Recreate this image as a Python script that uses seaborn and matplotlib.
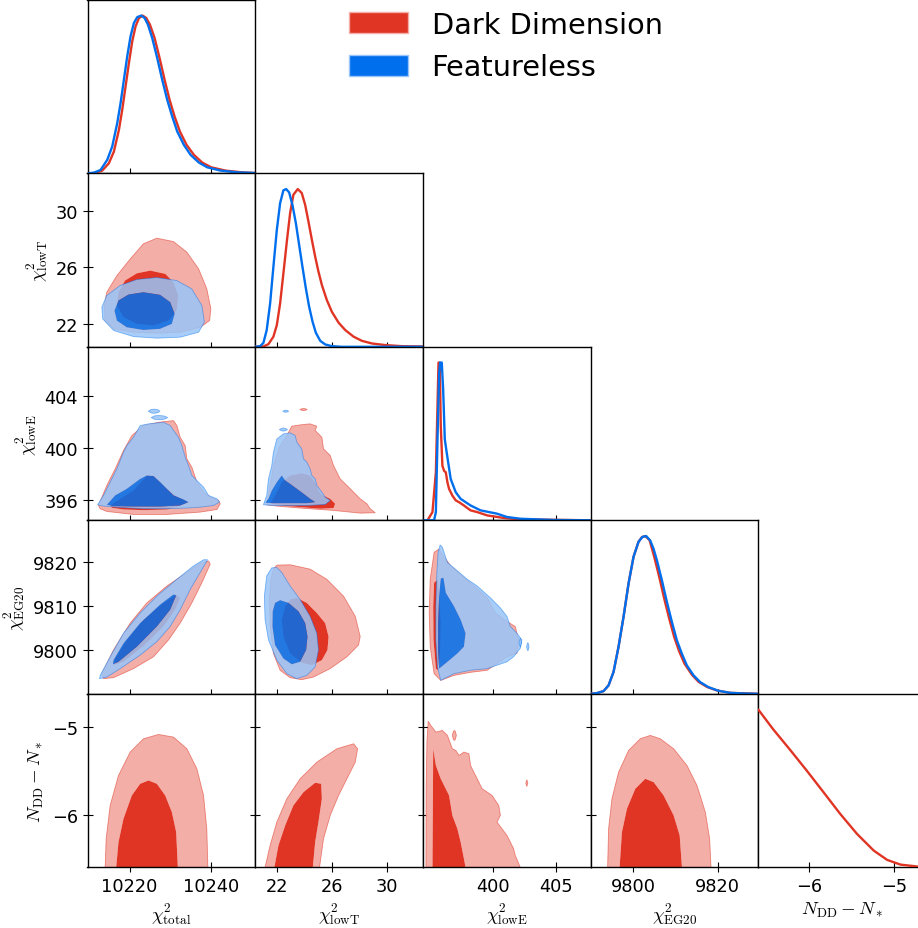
import numpy as np
import matplotlib
matplotlib.use('Agg')
import matplotlib.pyplot as plt
import matplotlib.colors as mcolors
from matplotlib.path import Path
from matplotlib.patches import PathPatch, Patch
import seaborn as sns

# ---------------- parameters / axes ----------------
param_labels = [r'$\chi^2_{\rm total}$', r'$\chi^2_{\rm lowT}$', r'$\chi^2_{\rm lowE}$',
                r'$\chi^2_{\rm EG20}$', r'$N_{\rm DD}-N_*$']
param_lims = [(10209.67, 10250.9), (20.38, 32.63), (394.42, 407.75), (9790.0, 9829.6), (-6.6, -4.62)]
xticks_list = [[10220, 10240], [22, 26, 30], [400, 405], [9800, 9820], [-6, -5]]
yticks_list = [[10220, 10240], [22, 26, 30], [396, 400, 404], [9800, 9810, 9820], [-6, -5]]
series_names = ['Dark Dimension', 'Featureless']

# ---------------- 1D marginals ----------------
tot_x_dd = [10209.7, 10211.65, 10213.29, 10214.93, 10216.16, 10217.39, 10218.21, 10219.03, 10219.85, 10220.67,
            10221.49, 10222.3, 10223.21, 10224.11, 10225.01, 10226.16, 10227.39, 10228.62, 10229.85, 10231.08,
            10232.39, 10234.03, 10235.83, 10237.88, 10240.09, 10243.62, 10247.72, 10250.9]
tot_p_dd = [0.0, 0.002, 0.017, 0.064, 0.138, 0.275, 0.403, 0.551, 0.699, 0.837,
            0.932, 0.983, 1.0, 0.985, 0.943, 0.858, 0.731, 0.593, 0.466, 0.36,
            0.265, 0.18, 0.117, 0.068, 0.038, 0.017, 0.006, 0.002]
tot_x_fl = [10209.7, 10211.24, 10212.88, 10214.52, 10215.75, 10216.98, 10217.8, 10218.62, 10219.44, 10220.26,
            10221.08, 10221.9, 10222.88, 10223.7, 10224.52, 10225.58, 10226.81, 10228.04, 10229.27, 10230.5,
            10231.73, 10233.37, 10235.01, 10237.06, 10239.11, 10242.39, 10246.49, 10250.9]
tot_p_fl = [0.0, 0.004, 0.021, 0.085, 0.17, 0.318, 0.445, 0.593, 0.742, 0.869,
            0.953, 0.99, 1.0, 0.985, 0.943, 0.858, 0.731, 0.593, 0.466, 0.36,
            0.265, 0.18, 0.117, 0.068, 0.038, 0.017, 0.006, 0.002]

lowT_x_dd = [20.37, 20.98, 21.35, 21.71, 21.96, 22.2, 22.44, 22.69, 22.93, 23.17, 23.49, 23.78, 24.03, 24.27,
             24.52, 24.76, 25.0, 25.25, 25.61, 25.98, 26.47, 26.96, 27.57, 28.17, 28.91, 29.88, 31.1, 32.66]
lowT_p_dd = [0.0, 0.002, 0.017, 0.064, 0.138, 0.275, 0.466, 0.667, 0.847, 0.964, 1.0, 0.975, 0.9, 0.794,
             0.678, 0.572, 0.477, 0.392, 0.297, 0.222, 0.153, 0.106, 0.064, 0.038, 0.021, 0.011, 0.004, 0.002]
lowT_x_fl = [20.37, 20.74, 20.98, 21.22, 21.47, 21.71, 21.96, 22.2, 22.44, 22.64, 22.86, 23.1, 23.35, 23.59,
             23.83, 24.08, 24.32, 24.57, 24.81, 25.13, 25.49, 25.98, 26.71, 32.66]
lowT_p_fl = [0.0, 0.004, 0.025, 0.106, 0.275, 0.508, 0.742, 0.911, 0.992, 1.0, 0.979, 0.9, 0.784, 0.646,
             0.508, 0.371, 0.254, 0.159, 0.089, 0.038, 0.015, 0.004, 0.0, 0.0]

lowE_x_dd = [394.42, 394.79, 395.18, 395.45, 395.58, 395.66, 395.76, 395.84, 395.97, 396.1, 396.24, 396.37,
             396.5, 396.76, 397.03, 397.29, 397.68, 398.21, 398.74, 399.53, 400.84, 402.16, 407.74]
lowE_p_dd = [0, 0, 0.052, 0.304, 0.723, 1.0, 1.0, 0.6, 0.346, 0.314, 0.304, 0.241,
             0.199, 0.157, 0.126, 0.115, 0.094, 0.063, 0.052, 0.031, 0.015, 0.006, 0]
lowE_x_fl = [394.42, 395.31, 395.45, 395.58, 395.71, 395.79, 395.92, 396.03, 396.16, 396.31, 396.63, 397.03,
             397.42, 398.21, 399.0, 400.31, 401.1, 402.16, 404.79, 407.74]
lowE_p_fl = [0, 0, 0.052, 0.514, 0.933, 1.0, 1.0, 0.828, 0.514, 0.43, 0.262, 0.178,
             0.136, 0.094, 0.063, 0.042, 0.021, 0.01, 0.002, 0]

eg_x_dd = [9790.0, 9791.47, 9793.05, 9794.23, 9795.41, 9796.59, 9797.77, 9798.96, 9800.14, 9801.32, 9802.1,
           9802.89, 9803.92, 9805.02, 9806.2, 9807.38, 9808.56, 9809.74, 9810.92, 9812.18, 9813.92, 9815.49,
           9817.46, 9819.82, 9822.97, 9829.6]
eg_p_dd = [0.0, 0.004, 0.017, 0.053, 0.138, 0.297, 0.487, 0.699, 0.869, 0.964, 0.993,
           1.0, 0.975, 0.869, 0.742, 0.604, 0.477, 0.36, 0.269, 0.191, 0.121, 0.076,
           0.044, 0.021, 0.006, 0.0]
eg_x_fl = [9790.0, 9791.47, 9793.05, 9794.23, 9795.41, 9796.59, 9797.77, 9798.96, 9800.14, 9801.32, 9802.26,
           9803.13, 9804.07, 9804.86, 9805.65, 9806.83, 9808.01, 9809.19, 9810.37, 9811.55, 9812.73, 9814.31,
           9815.88, 9817.85, 9820.21, 9822.97, 9826.12, 9829.6]
eg_p_fl = [0.0, 0.004, 0.017, 0.053, 0.138, 0.297, 0.487, 0.699, 0.869, 0.964, 0.995,
           1.0, 0.972, 0.92, 0.847, 0.72, 0.583, 0.456, 0.339, 0.254, 0.18, 0.117,
           0.074, 0.042, 0.019, 0.006, 0.002, 0.0]

n_x_dd = [-6.6, -6.423, -6.225, -6.028, -5.83, -5.632, -5.435, -5.237, -5.079, -4.921, -4.707, -4.62]
n_p_dd = [1.0, 0.874, 0.745, 0.613, 0.476, 0.338, 0.212, 0.106, 0.047, 0.017, 0.004, 0.001]

# ---------------- 2D contours (68% inner / 95% outer boundaries) ----------------
# total vs lowT
p21_dd_out_x = [10226.7, 10230.8, 10234.1, 10237.0, 10239.0, 10240.0, 10239.7, 10237.4, 10232.5, 10226.7, 10221.0,
                10216.1, 10214.0, 10213.8, 10214.4, 10216.9, 10220.2, 10223.4]
p21_dd_out_y = [28.05, 27.81, 27.06, 25.88, 24.47, 23.06, 22.23, 21.76, 21.41, 21.34, 21.41,
                21.65, 22.23, 23.29, 24.23, 25.41, 26.59, 27.65]
p21_dd_in_x = [10225.1, 10228.8, 10230.8, 10232.0, 10231.6, 10229.6, 10225.9, 10221.8, 10218.5, 10216.9, 10217.3,
               10218.9, 10221.8]
p21_dd_in_y = [25.76, 25.53, 24.94, 24.0, 22.94, 22.23, 21.88, 22.0, 22.47, 23.29, 24.23, 25.06, 25.57]
p21_fl_out_x = [10226.7, 10231.6, 10235.3, 10237.8, 10238.4, 10237.0, 10232.5, 10226.7, 10221.0, 10216.1, 10213.4,
                10213.2, 10214.4, 10217.7, 10221.8]
p21_fl_out_y = [25.27, 25.06, 24.47, 23.29, 22.12, 21.41, 21.06, 20.99, 21.1, 21.53, 22.35, 23.18, 24.0, 24.71, 25.13]
p21_fl_in_x = [10223.4, 10227.5, 10230.0, 10231.1, 10230.4, 10227.5, 10223.4, 10219.3, 10216.9, 10216.3, 10217.3,
               10219.75]
p21_fl_in_y = [24.23, 24.05, 23.53, 22.71, 22.0, 21.65, 21.57, 21.76, 22.23, 22.94, 23.65, 24.07]

# total vs lowE
p31_dd_out_x = [10212.37, 10214.42, 10216.47, 10218.52, 10220.57, 10223.44, 10227.13, 10230.82, 10231.64, 10232.46,
                10233.69, 10234.1, 10235.33, 10236.56, 10238.2, 10239.84, 10241.9, 10242.3, 10241.5, 10237.38,
                10229.18, 10220.98, 10214.42, 10212.78]
p31_dd_out_y = [395.56, 397.1, 398.37, 399.78, 400.93, 401.7, 401.95, 402.08, 401.7, 400.8, 400.16, 399.14, 398.5,
                397.35, 396.58, 396.2, 395.94, 395.69, 395.25, 395.05, 394.87, 394.87, 395.1, 395.31]
p31_dd_in_x = [10215.24, 10217.7, 10220.98, 10224.26, 10225.9, 10227.13, 10229.18, 10231.23, 10233.69, 10234.5,
               10231.64, 10229.18, 10223.44, 10218.52, 10215.65]
p31_dd_in_y = [395.56, 396.07, 396.71, 397.86, 397.86, 397.48, 396.84, 396.33, 395.94, 395.77, 395.43, 395.25,
               395.2, 395.25, 395.38]
p31_fl_out_x = [10212.13, 10213.6, 10215.24, 10216.88, 10218.52, 10219.34, 10220.98, 10222.62, 10224.67, 10226.72,
                10228.36, 10230.0, 10230.82, 10232.05, 10232.87, 10233.69, 10234.5, 10235.33, 10236.97, 10238.2,
                10239.43, 10241.5, 10242.15, 10240.66, 10237.38, 10234.1, 10229.18, 10223.44, 10217.7, 10213.6]
p31_fl_out_y = [395.61, 396.33, 397.35, 398.37, 399.65, 400.16, 400.8, 401.7, 401.83, 401.9, 401.95, 401.7, 401.32,
                400.8, 400.16, 399.27, 398.63, 397.86, 397.35, 396.97, 396.33, 396.07, 395.82, 395.56, 395.43,
                395.36, 395.31, 395.31, 395.41, 395.51]
p31_fl_in_x = [10214.42, 10216.47, 10219.34, 10222.62, 10224.26, 10225.9, 10227.54, 10229.18, 10230.82, 10233.28,
               10234.5, 10232.46, 10227.54, 10220.98, 10216.06]
p31_fl_in_y = [395.61, 396.33, 396.84, 397.6, 397.86, 397.81, 397.35, 396.84, 396.33, 396.02, 395.82, 395.56,
               395.48, 395.48, 395.51]
p31_fl_isl1_x = [10224.6, 10225.3, 10226.07, 10226.9, 10227.5, 10226.9, 10226.07, 10225.3]
p31_fl_isl1_y = [402.8, 402.93, 402.96, 402.92, 402.8, 402.68, 402.64, 402.67]
p31_fl_isl2_x = [10225.3, 10226.2, 10227.4, 10228.6, 10229.4, 10228.6, 10227.4, 10226.2]
p31_fl_isl2_y = [402.31, 402.45, 402.47, 402.43, 402.31, 402.19, 402.15, 402.18]

# lowT vs lowE
p32_dd_out_x = [21.22, 21.47, 21.71, 22.2, 22.69, 23.05, 23.66, 24.39, 24.88, 24.76, 25.25, 25.37, 25.86, 26.1,
                26.59, 27.08, 27.57, 28.05, 28.54, 28.78, 29.15, 28.05, 26.1, 23.66, 21.96]
p32_dd_out_y = [395.61, 397.1, 398.63, 400.16, 400.93, 401.65, 401.75, 401.83, 401.65, 401.32, 400.8, 399.91,
                399.4, 398.63, 397.6, 397.1, 396.58, 396.07, 395.69, 395.31, 395.0, 394.97, 395.18, 395.36, 395.51]
p32_dd_in_x = [21.47, 21.83, 22.32, 22.93, 23.78, 24.39, 24.76, 25.0, 25.25, 25.86, 26.22, 26.1, 25.13, 23.66, 22.2]
p32_dd_in_y = [395.69, 396.33, 397.35, 397.86, 398.04, 397.86, 397.35, 396.71, 396.38, 396.07, 395.69, 395.36,
               395.31, 395.43, 395.56]
p32_dd_isl_x = [23.64, 23.78, 23.91, 24.05, 24.18, 24.05, 23.91, 23.78]
p32_dd_isl_y = [402.93, 402.99, 403.01, 402.99, 402.93, 402.87, 402.85, 402.87]
p32_fl_out_x = [20.98, 21.22, 21.35, 21.59, 21.71, 21.96, 22.44, 22.93, 23.3, 23.42, 23.78, 23.91, 24.15, 24.39,
                24.52, 24.76, 24.88, 25.25, 25.49, 25.86, 25.49, 24.15, 22.69, 21.71]
p32_fl_out_y = [395.61, 396.33, 397.6, 398.63, 399.65, 400.67, 401.06, 401.14, 400.93, 400.42, 399.91, 399.14,
                398.89, 398.37, 397.86, 397.6, 397.1, 396.58, 396.2, 395.94, 395.64, 395.56, 395.56, 395.56]
p32_fl_in_x = [21.1, 21.35, 21.59, 21.96, 22.32, 22.57, 22.93, 23.42, 23.91, 24.39, 24.76, 24.15, 22.93, 21.71]
p32_fl_in_y = [395.77, 396.07, 396.71, 397.35, 397.86, 397.48, 397.22, 396.84, 396.46, 396.07, 395.82, 395.74,
               395.74, 395.74]
p32_fl_isl1_x = [22.39, 22.5, 22.61, 22.72, 22.83, 22.72, 22.61, 22.5]
p32_fl_isl1_y = [402.8, 402.86, 402.88, 402.86, 402.8, 402.74, 402.72, 402.74]
p32_fl_isl2_x = [22.14, 22.29, 22.44, 22.59, 22.74, 22.59, 22.44, 22.29]
p32_fl_isl2_y = [401.39, 401.48, 401.51, 401.48, 401.39, 401.3, 401.27, 401.3]

# total vs EG20
p41_dd_out_x = [10213.6, 10216.06, 10220.98, 10225.9, 10229.6, 10232.46, 10235.33, 10237.8, 10239.84, 10239.43,
                10237.38, 10234.1, 10229.18, 10224.26, 10220.16, 10216.06, 10213.2]
p41_dd_out_y = [9793.45, 9793.68, 9795.75, 9798.45, 9802.3, 9806.14, 9810.75, 9815.37, 9819.6, 9820.3,
                9819.83, 9817.7, 9814.6, 9810.75, 9806.14, 9800.0, 9794.6]
p41_dd_in_x = [10216.06, 10218.52, 10223.44, 10228.36, 10231.23, 10232.46, 10231.47, 10228.36, 10223.44, 10219.34,
               10216.47]
p41_dd_in_y = [9796.52, 9797.3, 9800.9, 9805.37, 9809.2, 9811.9, 9812.6, 9810.75, 9806.9, 9802.3, 9798.06]
p41_fl_out_x = [10212.62, 10214.42, 10217.7, 10222.62, 10226.72, 10230.0, 10232.46, 10234.92, 10237.38, 10239.2,
                10238.2, 10235.74, 10231.64, 10226.72, 10222.62, 10218.52, 10215.24, 10212.78]
p41_fl_out_y = [9793.45, 9793.83, 9795.75, 9798.83, 9801.9, 9805.37, 9809.2, 9813.83, 9817.7, 9820.6,
                9820.6, 9819.2, 9816.14, 9812.3, 9808.45, 9803.83, 9798.45, 9794.2]
p41_fl_in_x = [10215.9, 10217.29, 10221.8, 10226.72, 10230.0, 10231.47, 10230.82, 10227.54, 10222.62, 10218.52,
               10216.06]
p41_fl_in_y = [9796.75, 9797.3, 9800.75, 9805.37, 9809.2, 9812.45, 9812.68, 9810.37, 9806.14, 9801.52, 9797.68]

# lowT vs EG20
p42_dd_out_x = [21.96, 22.93, 24.39, 25.61, 26.83, 27.69, 28.05, 27.93, 27.08, 25.86, 24.64, 23.78, 22.93, 22.2,
                21.71, 21.47, 21.42, 21.52, 21.71]
p42_dd_out_y = [9819.37, 9819.45, 9818.45, 9816.14, 9812.3, 9807.68, 9803.06, 9801.14, 9798.45, 9795.75, 9793.83,
                9793.22, 9793.68, 9795.37, 9799.22, 9805.37, 9811.52, 9816.14, 9818.45]
p42_dd_in_x = [23.42, 24.15, 24.88, 25.49, 25.74, 25.66, 25.25, 24.52, 23.78, 22.93, 22.44, 22.32, 22.57, 22.93]
p42_dd_in_y = [9811.9, 9810.75, 9808.45, 9806.14, 9803.06, 9800.0, 9797.68, 9796.52, 9797.07, 9799.22, 9803.06,
               9806.9, 9809.98, 9811.52]
p42_fl_out_x = [21.96, 22.32, 22.93, 23.66, 24.39, 24.88, 25.0, 24.76, 24.15, 23.42, 22.69, 21.96, 21.35, 21.1,
                21.05, 21.22, 21.59]
p42_fl_out_y = [9818.83, 9817.7, 9814.6, 9811.52, 9807.68, 9803.83, 9800.0, 9796.14, 9794.2, 9793.45, 9794.6,
                9797.68, 9802.3, 9806.9, 9812.3, 9816.9, 9818.75]
p42_fl_in_x = [22.2, 22.81, 23.54, 24.03, 24.2, 24.1, 23.66, 23.05, 22.44, 21.83, 21.64, 21.66, 21.83]
p42_fl_in_y = [9811.37, 9810.75, 9808.83, 9806.14, 9803.06, 9800.0, 9797.3, 9796.75, 9798.06, 9801.14, 9805.37,
               9808.83, 9810.75]

# lowE vs EG20
p43_dd_out_x = [395.31, 395.71, 395.84, 396.63, 397.68, 398.47, 399.53, 400.18, 401.1, 401.76, 402.03, 401.89,
                401.1, 400.31, 399.53, 398.21, 396.89, 395.84, 395.31, 395.0, 394.92, 395.0]
p43_dd_out_y = [9822.3, 9823.06, 9822.3, 9819.2, 9816.5, 9814.6, 9811.9, 9808.45, 9806.52, 9805.37, 9802.3,
                9799.22, 9798.45, 9796.9, 9795.37, 9794.9, 9794.2, 9793.06, 9794.6, 9800.75, 9808.45, 9816.14]
p43_dd_in_x = [395.31, 395.63, 395.71, 395.84, 395.79, 395.63, 395.45, 395.26, 395.24]
p43_dd_in_y = [9815.37, 9816.14, 9813.06, 9806.14, 9799.22, 9795.37, 9795.75, 9802.3, 9809.98]
p43_fl_out_x = [395.79, 395.97, 396.37, 397.16, 397.95, 398.74, 399.79, 400.58, 401.1, 401.37, 401.89, 402.29,
                402.16, 401.63, 401.1, 400.31, 399.53, 398.21, 396.89, 395.84, 395.58, 395.45, 395.45, 395.53, 395.63]
p43_fl_out_y = [9824.0, 9823.45, 9819.98, 9818.06, 9816.14, 9814.6, 9811.9, 9809.6, 9807.68, 9805.37, 9803.83,
                9802.3, 9800.37, 9798.45, 9797.3, 9796.52, 9795.75, 9795.37, 9794.6, 9793.06, 9796.14, 9802.3,
                9809.98, 9817.7, 9822.3]
p43_fl_in_x = [395.84, 396.05, 396.24, 396.89, 397.42, 397.81, 397.68, 397.16, 396.37, 395.71, 395.63, 395.63, 395.71]
p43_fl_in_y = [9816.3, 9816.5, 9813.06, 9809.98, 9806.9, 9803.83, 9800.75, 9799.22, 9797.3, 9795.75, 9800.0,
               9806.14, 9812.3]
p43_fl_isl1_x = [402.06, 402.12, 402.16, 402.2, 402.26, 402.2, 402.16, 402.12]
p43_fl_isl1_y = [9801.68, 9802.4, 9802.68, 9802.4, 9801.68, 9800.96, 9800.68, 9800.96]
p43_fl_isl2_x = [402.66, 402.72, 402.76, 402.8, 402.86, 402.8, 402.76, 402.72]
p43_fl_isl2_y = [9800.75, 9801.45, 9801.7, 9801.45, 9800.75, 9800.05, 9799.8, 9800.05]

# total vs N
p51_dd_out_x = [10214.01, 10214.26, 10215.24, 10217.29, 10220.16, 10223.44, 10227.13, 10230.82, 10234.1, 10236.56,
                10238.2, 10239.0, 10239.26]
p51_dd_out_y = [-6.6, -6.274, -5.894, -5.552, -5.285, -5.133, -5.084, -5.114, -5.247, -5.475, -5.78, -6.16, -6.6]
p51_dd_in_x = [10216.72, 10217.29, 10218.52, 10220.57, 10222.62, 10224.67, 10226.72, 10228.77, 10230.41, 10231.47,
               10231.88]
p51_dd_in_y = [-6.6, -6.312, -6.046, -5.78, -5.647, -5.609, -5.647, -5.78, -5.97, -6.198, -6.6]

# lowT vs N
p52_dd_out_x = [21.1, 21.47, 21.96, 22.69, 23.66, 24.88, 26.35, 27.57, 27.86, 27.69, 27.08, 26.47, 25.86, 25.37, 25.08]
p52_dd_out_y = [-6.6, -6.35, -6.084, -5.818, -5.59, -5.4, -5.247, -5.19, -5.247, -5.4, -5.59, -5.78, -6.008,
                -6.274, -6.6]
p52_dd_in_x = [21.78, 22.08, 22.57, 23.17, 23.91, 24.76, 25.2, 25.25, 25.0, 24.76, 24.59]
p52_dd_in_y = [-6.6, -6.35, -6.122, -5.894, -5.742, -5.635, -5.647, -5.818, -6.084, -6.312, -6.6]

# lowE vs N
p53_dd_out_x = [394.66, 394.68, 394.74, 394.84, 395.05, 395.45, 395.97, 396.37, 396.76, 397.03, 397.29, 397.68,
                398.08, 398.21, 398.47, 398.74, 399.13, 399.53, 399.92, 400.18, 400.45, 400.58, 400.31, 400.71,
                401.1, 401.37, 401.63, 401.76, 402.16]
p53_dd_out_y = [-6.6, -5.704, -5.17, -4.932, -4.981, -5.057, -5.038, -5.095, -5.247, -5.266, -5.323, -5.285,
                -5.304, -5.438, -5.514, -5.59, -5.704, -5.742, -5.78, -5.837, -5.894, -6.008, -6.084, -6.16,
                -6.236, -6.312, -6.388, -6.464, -6.6]
p53_dd_in_x = [395.18, 395.24, 395.45, 395.84, 396.5, 396.76, 397.16, 397.42, 397.68, 397.81]
p53_dd_in_y = [-6.6, -5.247, -5.438, -5.59, -5.78, -6.008, -6.16, -6.312, -6.502, -6.6]
p53_dd_isl1_x = [396.76, 396.84, 396.92, 397.0, 397.08, 397.0, 396.92, 396.84]
p53_dd_isl1_y = [-5.095, -5.05, -5.038, -5.05, -5.095, -5.14, -5.152, -5.14]
p53_dd_isl2_x = [402.6, 402.68, 402.76, 402.68]
p53_dd_isl2_y = [-5.639, -5.6, -5.639, -5.678]

# EG20 vs N
p54_dd_out_x = [9794.02, 9794.25, 9795.04, 9796.61, 9798.98, 9801.73, 9804.1, 9806.46, 9809.61, 9812.76, 9815.12,
                9817.09, 9818.11, 9818.43]
p54_dd_out_y = [-6.6, -6.16, -5.818, -5.514, -5.266, -5.133, -5.095, -5.133, -5.247, -5.438, -5.666, -5.97,
                -6.274, -6.6]
p54_dd_in_x = [9796.85, 9797.4, 9798.58, 9800.55, 9802.91, 9804.88, 9807.24, 9809.61, 9811.03, 9811.57]
p54_dd_in_y = [-6.6, -6.198, -5.932, -5.704, -5.59, -5.628, -5.78, -6.008, -6.236, -6.6]

# ---------------- tables built from the arrays ----------------
RED = '#E03424'
BLUE = '#006FED'
series_colors = [RED, BLUE]
series_alpha = [1.0, 0.85]

diag_curves = {
    0: [(tot_x_dd, tot_p_dd), (tot_x_fl, tot_p_fl)],
    1: [(lowT_x_dd, lowT_p_dd), (lowT_x_fl, lowT_p_fl)],
    2: [(lowE_x_dd, lowE_p_dd), (lowE_x_fl, lowE_p_fl)],
    3: [(eg_x_dd, eg_p_dd), (eg_x_fl, eg_p_fl)],
    4: [(n_x_dd, n_p_dd)],
}

contours = {
    (1, 0): [([(p21_dd_out_x, p21_dd_out_y)], (p21_dd_in_x, p21_dd_in_y)),
             ([(p21_fl_out_x, p21_fl_out_y)], (p21_fl_in_x, p21_fl_in_y))],
    (2, 0): [([(p31_dd_out_x, p31_dd_out_y)], (p31_dd_in_x, p31_dd_in_y)),
             ([(p31_fl_out_x, p31_fl_out_y), (p31_fl_isl1_x, p31_fl_isl1_y), (p31_fl_isl2_x, p31_fl_isl2_y)],
              (p31_fl_in_x, p31_fl_in_y))],
    (2, 1): [([(p32_dd_out_x, p32_dd_out_y), (p32_dd_isl_x, p32_dd_isl_y)], (p32_dd_in_x, p32_dd_in_y)),
             ([(p32_fl_out_x, p32_fl_out_y), (p32_fl_isl1_x, p32_fl_isl1_y), (p32_fl_isl2_x, p32_fl_isl2_y)],
              (p32_fl_in_x, p32_fl_in_y))],
    (3, 0): [([(p41_dd_out_x, p41_dd_out_y)], (p41_dd_in_x, p41_dd_in_y)),
             ([(p41_fl_out_x, p41_fl_out_y)], (p41_fl_in_x, p41_fl_in_y))],
    (3, 1): [([(p42_dd_out_x, p42_dd_out_y)], (p42_dd_in_x, p42_dd_in_y)),
             ([(p42_fl_out_x, p42_fl_out_y)], (p42_fl_in_x, p42_fl_in_y))],
    (3, 2): [([(p43_dd_out_x, p43_dd_out_y)], (p43_dd_in_x, p43_dd_in_y)),
             ([(p43_fl_out_x, p43_fl_out_y), (p43_fl_isl1_x, p43_fl_isl1_y), (p43_fl_isl2_x, p43_fl_isl2_y)],
              (p43_fl_in_x, p43_fl_in_y))],
    (4, 0): [([(p51_dd_out_x, p51_dd_out_y)], (p51_dd_in_x, p51_dd_in_y))],
    (4, 1): [([(p52_dd_out_x, p52_dd_out_y)], (p52_dd_in_x, p52_dd_in_y))],
    (4, 2): [([(p53_dd_out_x, p53_dd_out_y), (p53_dd_isl1_x, p53_dd_isl1_y), (p53_dd_isl2_x, p53_dd_isl2_y)],
              (p53_dd_in_x, p53_dd_in_y))],
    (4, 3): [([(p54_dd_out_x, p54_dd_out_y)], (p54_dd_in_x, p54_dd_in_y))],
}

# ---------------- style ----------------
sns.set_style('white')
plt.rcParams['font.family'] = ['DejaVu Sans']
plt.rcParams['mathtext.fontset'] = 'cm'
plt.rcParams['axes.edgecolor'] = 'black'
plt.rcParams['axes.linewidth'] = 1.0
plt.rcParams['text.color'] = 'black'
plt.rcParams['axes.labelcolor'] = 'black'
plt.rcParams['xtick.color'] = 'black'
plt.rcParams['ytick.color'] = 'black'


def pale(c, f=0.6):
    r = mcolors.to_rgb(c)
    return tuple(v * (1 - f) + f for v in r)


def ring(x, y, ccw=True):
    x = np.asarray(x, float)
    y = np.asarray(y, float)
    a = 0.5 * np.sum(x * np.roll(y, -1) - np.roll(x, -1) * y)
    if (a > 0) != ccw:
        x, y = x[::-1], y[::-1]
    verts = np.column_stack([np.r_[x, x[0]], np.r_[y, y[0]]])
    codes = [Path.MOVETO] + [Path.LINETO] * (len(x) - 1) + [Path.CLOSEPOLY]
    return Path(verts, codes)


def draw_set(ax, outers, inner, color, alpha):
    paths = [ring(*p, ccw=True) for p in outers] + [ring(*inner, ccw=False)]
    band = Path.make_compound_path(*paths)
    ax.add_patch(PathPatch(band, facecolor=pale(color), edgecolor='none', alpha=alpha, zorder=2))
    ax.add_patch(PathPatch(ring(*inner), facecolor=color, edgecolor='none', alpha=alpha, zorder=2))
    for p in outers:
        ax.add_patch(PathPatch(ring(*p), facecolor='none', edgecolor=color, lw=0.6,
                               alpha=0.55 * alpha, zorder=2))


def fmt(t):
    return ('%g' % t).replace('-', '\u2212')


W, H = 918.0, 929.0
fig = plt.figure(figsize=(W / 100, H / 100), dpi=100)
left0, cw, top0, rh = 87.5, 167.7, 0.8, 173.5
n = 5
for i in range(n):
    for j in range(i + 1):
        l = (left0 + j * cw) / W
        b = 1 - (top0 + (i + 1) * rh) / H
        ax = fig.add_axes([l, b, cw / W, rh / H])
        if i == j:
            for k, (xs, ps) in enumerate(diag_curves[i]):
                sns.lineplot(x=np.array(xs), y=np.array(ps), ax=ax, color=series_colors[k],
                             linewidth=1.7, zorder=3)
            ax.set_ylim(0, 1.1)
            ax.set_yticks([])
            ax.set_ylabel('')
        else:
            for k, (outers, inner) in enumerate(contours[(i, j)]):
                draw_set(ax, outers, inner, series_colors[k], series_alpha[k])
            ax.set_ylim(*param_lims[i])
            ax.set_yticks(yticks_list[i])
            if j == 0:
                ax.set_yticklabels([fmt(t) for t in yticks_list[i]])
                ax.set_ylabel(param_labels[i], fontsize=13.5)
            else:
                ax.set_yticklabels([])
        ax.set_xlim(*param_lims[j])
        ax.set_xticks(xticks_list[j])
        if i == n - 1:
            ax.set_xticklabels([fmt(t) for t in xticks_list[j]])
            ax.set_xlabel(param_labels[j], fontsize=13.5)
        else:
            ax.set_xticklabels([])
            ax.set_xlabel('')
        ax.tick_params(axis='both', which='both', direction='inout', length=6.5, width=0.8,
                       labelsize=12.8, bottom=True, left=(i != j), top=False, right=False)
        for s in ax.spines.values():
            s.set_color('black')
            s.set_linewidth(1.0)

handles = [Patch(facecolor=RED, edgecolor=pale(RED)), Patch(facecolor=BLUE, edgecolor=pale(BLUE))]
fig.legend(handles, series_names, loc='upper left', bbox_to_anchor=(349 / W, 1 - 11.5 / H),
           frameon=False, fontsize=20.7, handlelength=2.06, handleheight=0.75, handletextpad=0.81,
           labelspacing=0.52, borderpad=0, borderaxespad=0)

fig.savefig('out.png', dpi=100)
